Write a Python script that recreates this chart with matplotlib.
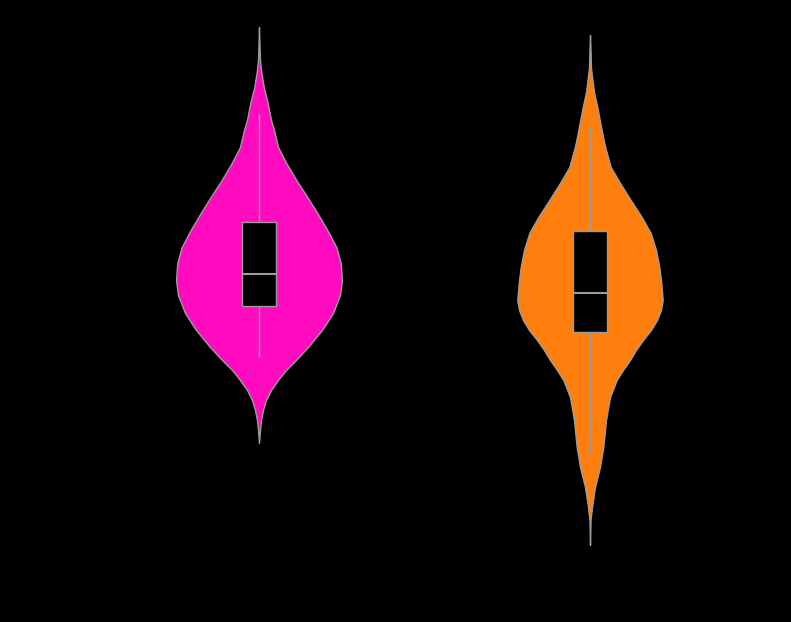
import numpy as np
import matplotlib
matplotlib.use("Agg")
import matplotlib.pyplot as plt

# violin profiles: value level and relative density (half width)
cat_names = ["A", "B"]
colors = ["#ff0cc0", "#ff7f0e"]

a_levels = [595, 577, 562, 552, 535, 519, 502, 492, 475, 459, 442, 425, 409, 392, 375,
            359, 342, 327, 309, 292, 275, 262, 252, 242, 232, 222, 212, 202, 192, 179]
a_density = [0, 0.5, 1, 2, 4.7, 8.7, 12, 15, 19, 27.3, 37.3, 48.3, 58.3, 68.3, 77.3,
             81.7, 83, 81, 74, 63, 49, 37, 27, 19, 12, 7, 4, 2, 1, 0]

b_levels = [587, 572, 554, 542, 530, 514, 497, 480, 472, 455, 439, 422, 405, 389, 372, 355, 339, 322,
            312, 302, 292, 282, 272, 262, 252, 242, 225, 202, 175, 155, 135, 122, 115, 102, 77]
b_density = [0, 0.5, 1, 2.5, 4, 7.5, 10.7, 14, 16, 20.7, 30, 40.7, 51.7, 60.7, 66, 69.3, 71.3, 72.7,
             71, 67, 61, 53, 46, 40, 33, 26.7, 20, 16, 13.3, 10, 5, 3, 2, 0.5, 0]

# box stats: lower whisker, q1, median, q3, upper whisker
a_box = [265, 316, 348, 400, 508]
b_box = [168, 290, 329, 391, 495]

levels = [a_levels, b_levels]
densities = [a_density, b_density]
boxes = [a_box, b_box]

fig = plt.figure(figsize=(7.91, 6.22), dpi=100, facecolor="black")
ax = fig.add_axes([0, 0, 1, 1])
ax.set_facecolor("black")

scale = 1 / 331
edge = "#a09c9a"
for i in range(len(cat_names)):
    y = np.array(levels[i])
    w = np.array(densities[i]) * scale
    ax.fill_betweenx(y, i - w, i + w, facecolor=colors[i], edgecolor=edge, linewidth=1.0, zorder=1)
    lo, q1, med, q3, hi = boxes[i]
    ax.vlines(i, lo, q1, color=edge, linewidth=1.0, zorder=2)
    ax.vlines(i, q3, hi, color=edge, linewidth=1.0, zorder=2)
    ax.bar(i, q3 - q1, bottom=q1, width=0.1, color="black", edgecolor=edge, linewidth=1.0, zorder=3)
    ax.hlines(med, i - 0.05, i + 0.05, color=edge, linewidth=1.5, zorder=4)

ax.set_xlim(-259 / 331, 532 / 331)
ax.set_ylim(0, 622)
ax.axis("off")

fig.savefig("out.png", dpi=100, facecolor="black")
